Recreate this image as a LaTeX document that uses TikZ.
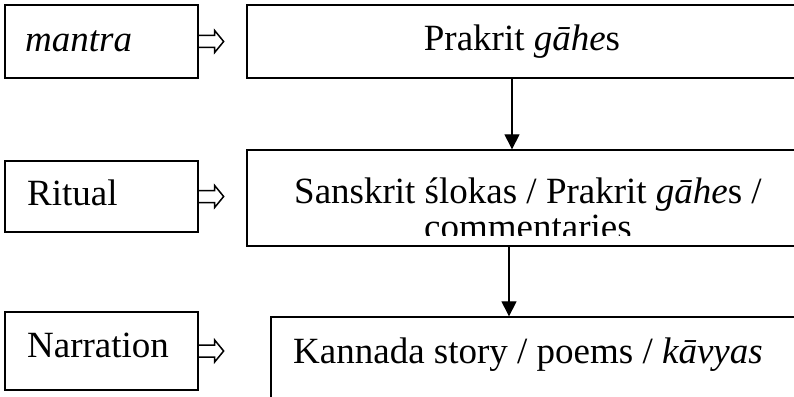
\documentclass[tikz,border=0pt]{standalone}
\usepackage{fontspec}
\setmainfont{Liberation Serif}
\usetikzlibrary{arrows.meta}
\begin{document}
\begin{tikzpicture}[x=1pt,y=-1pt,
  box/.style={draw,line width=1.3pt,inner sep=0pt},
  txt/.style={inner sep=0pt,anchor=base west,font=\fontsize{37}{42}\selectfont},
  ctxt/.style={inner sep=0pt,anchor=base,font=\fontsize{37}{42}\selectfont},
  flow/.style={line width=1.1pt,-{Triangle[length=15pt,width=15pt]}},
  hollow/.style={line width=1.5pt,line join=miter}]
\useasboundingbox (0,0) rectangle (794,396);
\begin{scope}
\clip (0,0) rectangle (794,396);
% left boxes
\node[box,minimum width=193pt,minimum height=73pt] (mantra) at (101.5,41.5) {};
\node[box,minimum width=193pt,minimum height=71pt] (ritual) at (101.5,196.5) {};
\node[box,minimum width=193pt,minimum height=78pt] (narr) at (101.5,351) {};
% right boxes
\node[box,minimum width=550pt,minimum height=73pt] (prak) at (522,41.5) {};
\node[box,minimum width=550pt,minimum height=96pt] (sans) at (522,198) {};
\node[box,minimum width=526pt,minimum height=106pt] (kann) at (534,370) {};
% texts
\node[txt] (tmantra) at (25,52) {\itshape mantra};
\node[txt] (tritual) at (27,205) {Ritual};
\node[txt] (tnarr) at (27,357) {Narration};
\node[ctxt] (tprak) at (522,51) {Prakrit \textit{gāhe}s};
\node[ctxt] (tsans1) at (528,203) {Sanskrit ślokas / Prakrit \textit{gāhe}s /};
\begin{scope}
\clip (247,150) rectangle (797,235);
\node[ctxt] (tsans2) at (528,239) {commentaries};
\end{scope}
\node[txt] (tkann) at (293,363) {Kannada story / poems / \textit{kāvyas}};
% vertical arrows
\draw[flow] ([xshift=-10pt]prak.south) -- ([xshift=-10pt]prak.south |- sans.north);
\draw[flow] ([xshift=-13pt]sans.south) -- ([xshift=-13pt]sans.south |- kann.north);
% hollow double arrows
\foreach \n in {mantra,ritual,narr}{
  \draw[hollow] (\n.east) ++(0,-6) -- ++(16,0) -- ++(0,-5) -- ++(9,11) -- ++(-9,11) -- ++(0,-5) -- ++(-16,0);
}
\end{scope}
\end{tikzpicture}
\end{document}
